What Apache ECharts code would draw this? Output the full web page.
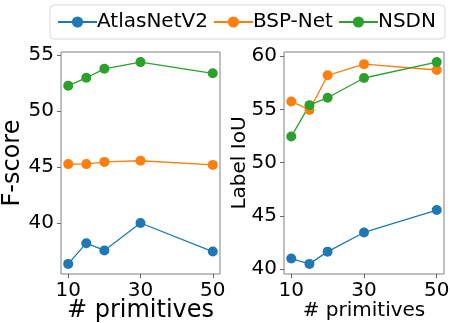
<!DOCTYPE html>
<html><head><meta charset="utf-8">
<script src="https://cdn.jsdelivr.net/npm/echarts@6/dist/echarts.min.js"></script>
<style>html,body{margin:0;padding:0;background:#fff}#c{width:450px;height:323px}</style>
</head><body><div id="c"></div>
<script>
const primitives = [10, 15, 20, 30, 50];
const seriesNames = ['AtlasNetV2', 'BSP-Net', 'NSDN'];
const fscoreAtlas = [36.35, 38.2, 37.55, 40.0, 37.45];
const fscoreBSP = [45.25, 45.25, 45.45, 45.55, 45.18];
const fscoreNSDN = [52.25, 52.95, 53.75, 54.35, 53.35];
const iouAtlas = [41.0, 40.5, 41.65, 43.45, 45.55];
const iouBSP = [55.75, 54.95, 58.2, 59.25, 58.7];
const iouNSDN = [52.45, 55.4, 56.1, 57.95, 59.44];
const xTicks = [10, 30, 50];
const fscoreTicks = [40, 45, 50, 55];
const iouTicks = [40, 45, 50, 55, 60];

const colors = ['#1f77b4', '#ff7f0e', '#2ca02c'];
const FONT = 'DejaVu Sans';
const pair = (ys) => primitives.map((x, i) => [x, ys[i]]);

function xAxis(gi, nameSize, nameGap) {
  return {
    type: 'value', gridIndex: gi, min: 8, max: 52,
    name: '# primitives', nameLocation: 'middle', nameGap: nameGap, nameMoveOverlap: false,
    nameTextStyle: { fontFamily: FONT, fontSize: nameSize, color: '#000' },
    axisLine: { show: false },
    axisTick: { show: true, inside: false, length: 4, customValues: xTicks, lineStyle: { color: '#666' } },
    axisLabel: { customValues: xTicks, fontFamily: FONT, fontSize: 20, color: '#000', margin: 7 },
    splitLine: { show: false }
  };
}
function yAxis(gi, name, min, max, ticks, nameSize, nameGap) {
  return {
    type: 'value', gridIndex: gi, min: min, max: max,
    name: name, nameLocation: 'middle', nameGap: nameGap, nameMoveOverlap: false,
    nameTextStyle: { fontFamily: FONT, fontSize: nameSize, color: '#000' },
    axisLine: { show: false },
    axisTick: { show: true, inside: false, length: 4, customValues: ticks, lineStyle: { color: '#666' } },
    axisLabel: { customValues: ticks, fontFamily: FONT, fontSize: 20, color: '#000', margin: 7 },
    splitLine: { show: false }
  };
}
function line(name, data, ci, xi) {
  return {
    name: name, type: 'line', xAxisIndex: xi, yAxisIndex: xi, data: pair(data),
    symbol: 'circle', symbolSize: 10, showSymbol: true,
    lineStyle: { color: colors[ci], width: 1.3 },
    itemStyle: { color: colors[ci] },
    emphasis: { disabled: true }
  };
}

const chart = echarts.init(document.getElementById('c'), null, { renderer: 'canvas' });
chart.setOption({
  animation: false,
  backgroundColor: '#fff',
  legend: {
    data: seriesNames, left: 50, top: 5,
    padding: [7, 9, 7, 7], itemGap: 5, itemWidth: 39, itemHeight: 14,
    borderColor: '#d9d9d9', borderWidth: 1, borderRadius: 4,
    textStyle: { fontFamily: FONT, fontSize: 20, color: '#000', padding: [0, 0, 0, -5] }
  },
  grid: [
    { left: 61, right: 230, top: 52, bottom: 49, outerBoundsMode: 'none', containLabel: false, show: true, borderColor: '#808080', borderWidth: 1, backgroundColor: 'transparent' },
    { left: 284, right: 6, top: 52, bottom: 49, outerBoundsMode: 'none', containLabel: false, show: true, borderColor: '#808080', borderWidth: 1, backgroundColor: 'transparent' }
  ],
  xAxis: [xAxis(0, 24, 25), xAxis(1, 20, 27)],
  yAxis: [
    yAxis(0, 'F-score', 35.45, 55.25, fscoreTicks, 24, 36),
    yAxis(1, 'Label IoU', 39.55, 60.39, iouTicks, 20, 34)
  ],
  series: [
    line(seriesNames[0], fscoreAtlas, 0, 0),
    line(seriesNames[1], fscoreBSP, 1, 0),
    line(seriesNames[2], fscoreNSDN, 2, 0),
    line(seriesNames[0], iouAtlas, 0, 1),
    line(seriesNames[1], iouBSP, 1, 1),
    line(seriesNames[2], iouNSDN, 2, 1)
  ]
});
</script></body></html>
